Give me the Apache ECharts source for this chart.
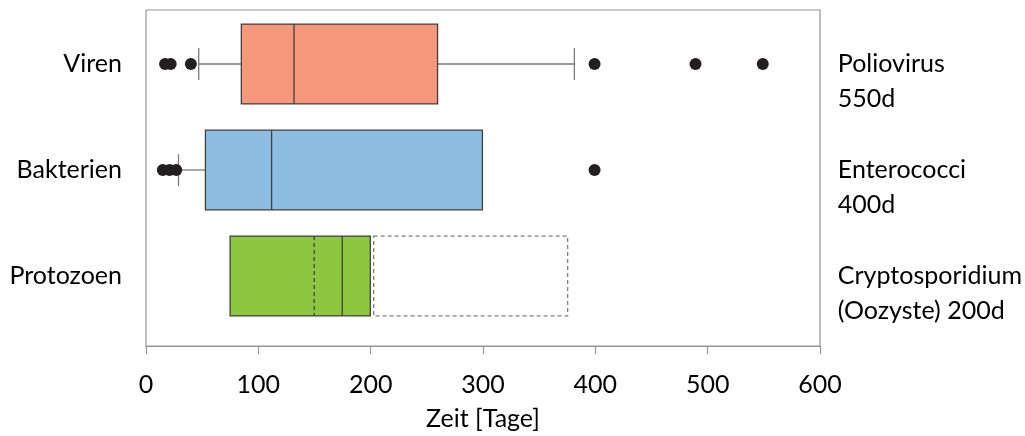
<!DOCTYPE html>
<html>
<head>
<meta charset="utf-8">
<script src="https://cdn.jsdelivr.net/npm/echarts@6/dist/echarts.min.js"></script>
<style>html,body{margin:0;padding:0;background:#fff;}#c{width:1025px;height:436px;}</style>
</head>
<body>
<div id="c"></div>
<script>
// ---- data ----
const categories = ['Viren', 'Bakterien', 'Protozoen'];
const rightLabels = ['Poliovirus\n550d', 'Enterococci\n400d', 'Cryptosporidium\n(Oozyste) 200d'];
const whiskerLow = [47, 29, null];
const q1 = [85, 53, 75];
const median = [132, 112, 175];
const q3 = [260, 300, 200];
const whiskerHigh = [382, null, null];
const virenOutliers = [17, 22, 40, 400, 490, 550];
const bakterienOutliers = [15, 21, 27, 400];
const protozoenDashedMedian = 150;
const protozoenExtension = [203, 376];
const boxColors = ['#F5977A', '#8DBDE1', '#8DC63F'];
const xTicks = { min: 0, max: 600, interval: 100 };

const FONT = 'Lato';
const chart = echarts.init(document.getElementById('c'), null, { renderer: 'canvas' });

const outlierData = [];
virenOutliers.forEach(v => outlierData.push([v, 0]));
bakterienOutliers.forEach(v => outlierData.push([v, 1]));

function renderBox(params, api) {
  const i = params.dataIndex;
  const band = api.size([0, 1])[1];
  const hh = band * 0.377;
  const capH = band * 0.15;
  const c = api.coord([q1[i], i]);
  const cy = c[1];
  const X = v => api.coord([v, i])[0];
  const children = [];
  const whiskerStyle = { stroke: '#7a7a7a', lineWidth: 1.3 };
  if (whiskerLow[i] != null) {
    children.push({ type: 'line', shape: { x1: X(whiskerLow[i]), y1: cy, x2: X(q1[i]), y2: cy }, style: whiskerStyle });
    children.push({ type: 'line', shape: { x1: X(whiskerLow[i]), y1: cy - capH, x2: X(whiskerLow[i]), y2: cy + capH }, style: whiskerStyle });
  }
  if (whiskerHigh[i] != null) {
    children.push({ type: 'line', shape: { x1: X(q3[i]), y1: cy, x2: X(whiskerHigh[i]), y2: cy }, style: whiskerStyle });
    children.push({ type: 'line', shape: { x1: X(whiskerHigh[i]), y1: cy - capH, x2: X(whiskerHigh[i]), y2: cy + capH }, style: whiskerStyle });
  }
  if (i === 2) {
    const a = X(protozoenExtension[0]), b = X(protozoenExtension[1]);
    children.push({ type: 'rect', shape: { x: a, y: cy - hh, width: b - a, height: 2 * hh },
      style: { fill: '#fff', stroke: '#7f7f7f', lineWidth: 1.3, lineDash: [4, 3] } });
  }
  const l = X(q1[i]), r = X(q3[i]);
  children.push({ type: 'rect', shape: { x: l, y: cy - hh, width: r - l, height: 2 * hh },
    style: { fill: boxColors[i], stroke: '#404040', lineWidth: 1.3 } });
  if (i === 2) {
    const dm = X(protozoenDashedMedian);
    children.push({ type: 'line', shape: { x1: dm, y1: cy - hh, x2: dm, y2: cy + hh },
      style: { stroke: '#404040', lineWidth: 1.3, lineDash: [4, 3] } });
  }
  const m = X(median[i]);
  children.push({ type: 'line', shape: { x1: m, y1: cy - hh, x2: m, y2: cy + hh },
    style: { stroke: '#404040', lineWidth: 1.3 } });
  return { type: 'group', children };
}

const option = {
  backgroundColor: '#fff',
  animation: false,
  grid: [
    { left: 146, right: 205, top: 11, height: 318, containLabel: false },
    { left: 146, right: 205, top: 10, height: 337, show: true, borderColor: '#969696', borderWidth: 1.2, containLabel: false }
  ],
  xAxis: [
    { gridIndex: 0, type: 'value', min: xTicks.min, max: xTicks.max, interval: xTicks.interval, show: false },
    { gridIndex: 1, type: 'value', min: xTicks.min, max: xTicks.max, interval: xTicks.interval,
      name: 'Zeit [Tage]', nameLocation: 'middle', nameGap: 60,
      nameTextStyle: { fontFamily: FONT, fontSize: 25, color: '#000' },
      axisLine: { show: true, lineStyle: { color: '#969696', width: 1.2 } },
      axisTick: { show: true, length: 8, lineStyle: { color: '#969696', width: 1.2 } },
      axisLabel: { fontFamily: FONT, fontSize: 25, color: '#000', margin: 26 },
      splitLine: { show: false } }
  ],
  yAxis: [
    { gridIndex: 0, type: 'category', data: categories, inverse: true,
      axisLine: { show: false }, axisTick: { show: false }, splitLine: { show: false },
      axisLabel: { fontFamily: FONT, fontSize: 25, color: '#000', margin: 24 } },
    { gridIndex: 0, type: 'category', data: rightLabels, inverse: true, position: 'right',
      axisLine: { show: false }, axisTick: { show: false }, splitLine: { show: false },
      axisLabel: { fontFamily: FONT, fontSize: 25, color: '#000', margin: 19, align: 'left', lineHeight: 35,
        formatter: v => '\n' + v } },
    { gridIndex: 1, type: 'value', min: 0, max: 1, show: false }
  ],
  series: [
    { type: 'custom', xAxisIndex: 0, yAxisIndex: 0, renderItem: renderBox,
      data: categories.map((c, i) => [q1[i], i]), z: 2 },
    { type: 'scatter', xAxisIndex: 0, yAxisIndex: 0, data: outlierData, symbolSize: 12,
      itemStyle: { color: '#231f20', opacity: 1 }, z: 5 }
  ]
};
chart.setOption(option);
</script>
</body>
</html>
